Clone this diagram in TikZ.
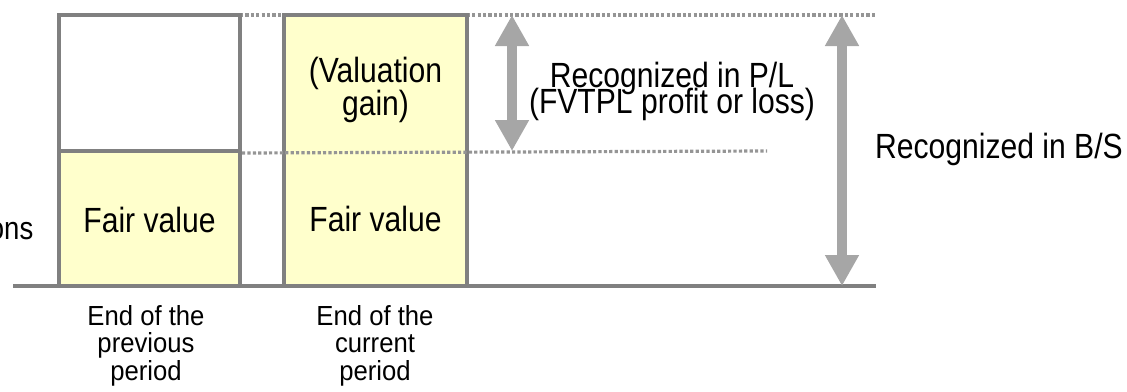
\documentclass[tikz,border=0pt]{standalone}
\usepackage{fontspec}
\setmainfont{Liberation Sans}[FakeStretch=0.93]
\newfontfamily\condfont{Liberation Sans}[FakeStretch=0.86]
\newcommand\tightlines{\lineskiplimit=-100pt\relax}
\usetikzlibrary{arrows.meta}
\definecolor{boxline}{HTML}{808080}
\definecolor{dotline}{HTML}{959595}
\definecolor{arrowgray}{HTML}{A6A6A6}
\definecolor{fairfill}{HTML}{FFFFCC}
\tikzset{
  part/.style={rectangle, draw=boxline, line width=4pt, inner sep=0pt},
  guide/.style={draw=dotline, line width=3.2pt, dash pattern=on 3.2pt off 2.2pt},
  span/.style={draw=arrowgray, line width=10pt,
    {Triangle[width=32pt,length=31pt]}-{Triangle[width=32pt,length=31pt]}},
  label/.style={font=\condfont\fontsize{35}{26}\selectfont\tightlines, inner sep=0pt, align=center},
  small/.style={font=\fontsize{27.6}{27.5}\selectfont\tightlines, inner sep=0pt, align=center},
}
\begin{document}
\begin{tikzpicture}[x=1pt,y=-1pt]
\useasboundingbox (0,0) rectangle (1127,391);

% guide lines at the top and at the previous fair value
\coordinate (topend) at (875,15);
\coordinate (midend) at (767,151);
\draw[guide] (240,15) -- (topend);

% end of the previous period
\node[part, fill=white, minimum width=181pt, minimum height=136pt] (prevtop) at (149.5,83) {};
\node[part, fill=fairfill, minimum width=181pt, minimum height=135pt] (prevfv) at (149.5,218.5) {};

% end of the current period
\node[part, fill=fairfill, minimum width=183pt, minimum height=271pt] (cur) at (375.5,150.5) {};
\draw[guide] (prevtop.south east) -- (midend);

% axis
\coordinate (axl) at (13,286);
\coordinate (axr) at (876,286);
\draw[boxline, line width=4pt] (axl) -- (axr);

% texts in the columns (base = baseline of the last line)
\node[label, anchor=base] (fv1) at (149.5,232) {Fair value};
\node[label, anchor=base] (fv2) at (375.5,231) {Fair value};
\node[label, anchor=base, font=\condfont\fontsize{35}{33}\selectfont\tightlines] (gain) at (375.5,115) {(Valuation\\gain)};

% period captions
\node[small, anchor=base] (cap1) at (146,380) {End of the\\previous\\period};
\node[small, anchor=base] (cap2) at (375,380) {End of the\\current\\period};

% left caption, running off the edge
\node[anchor=base east, inner sep=0pt, font=\condfont\fontsize{32}{32}\selectfont] (ons) at (33.5,239) {ons};

% spans
\coordinate (pltop) at (512,15);
\coordinate (plbot) at (512,151);
\draw[span] (pltop) -- (plbot);
\coordinate (bstop) at (842,15);
\coordinate (bsbot) at (842,286);
\draw[span] (bstop) -- (bsbot);

\node[label, anchor=base] (pl) at (672,113) {Recognized in P/L\\(FVTPL profit or loss)};
\node[label, anchor=base] (bs) at (999,158) {Recognized in B/S};
\end{tikzpicture}
\end{document}
